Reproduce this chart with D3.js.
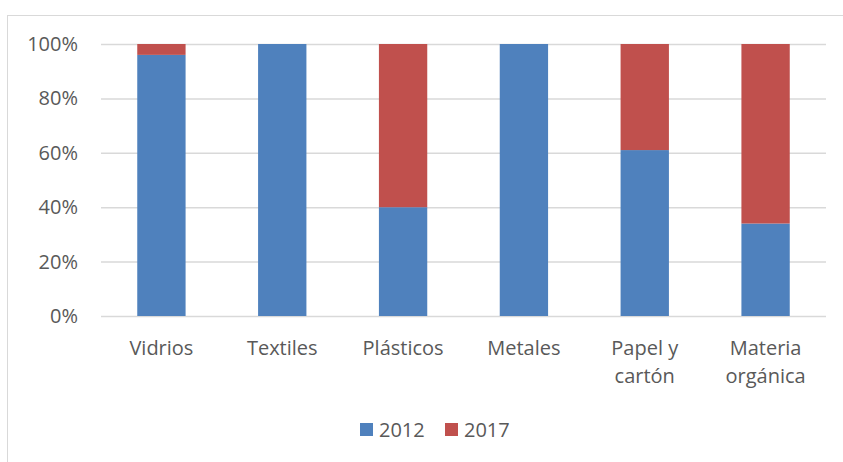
<!DOCTYPE html>
<html><head><meta charset="utf-8">
<script src="https://cdn.jsdelivr.net/npm/d3@7"></script>
<style>body{margin:0;background:#fff}svg{display:block}text{font-family:"Open Sans",sans-serif;fill:#595959}</style>
</head><body><svg id="c" width="843" height="462"></svg>
<script>
const categories = [["Vidrios"],["Textiles"],["Plásticos"],["Metales"],["Papel y","cartón"],["Materia","orgánica"]];
const series = ["2012","2017"];
const values2012 = [0.96, 1.00, 0.40, 1.00, 0.61, 0.34];
const values2017 = [0.04, 0.00, 0.60, 0.00, 0.39, 0.66];
const yTicks = [0,0.2,0.4,0.6,0.8,1.0];
const colors = ["#4F81BD","#C0504D"];
const FS = "20px";

const svg = d3.select("#c");
svg.append("rect").attr("x",7.5).attr("y",15.5).attr("width",900).attr("height",500)
  .attr("fill","none").attr("stroke","#d9d9d9");

const x = d3.scaleBand().domain(d3.range(categories.length)).range([101,826]).paddingInner(0.6).paddingOuter(0.3);
const y = d3.scaleLinear().domain([0,1]).range([316,44]);

const yAxis = d3.axisLeft(y).tickValues(yTicks).tickFormat(d3.format(".0%")).tickSize(0).tickPadding(23);
const ga = svg.append("g").attr("transform","translate(101,0)").call(yAxis);
ga.select(".domain").remove();
ga.selectAll("text").style("font-size",FS);

const grid = d3.axisLeft(y).tickValues(yTicks).tickSize(-725).tickFormat("");
const gg = svg.append("g").attr("transform","translate(101,0)").call(grid);
gg.select(".domain").remove();
gg.selectAll("line").attr("stroke","#d9d9d9").attr("stroke-width",1.5);

const data = categories.map((c,i)=>({i, "2012":values2012[i], "2017":values2017[i]}));
const stacked = d3.stack().keys(series)(data);
svg.append("g").selectAll("g").data(stacked).join("g").attr("fill",(d,k)=>colors[k])
  .selectAll("rect").data(d=>d).join("rect")
  .attr("x",d=>x(d.data.i)).attr("width",x.bandwidth())
  .attr("y",d=>y(d[1])).attr("height",d=>y(d[0])-y(d[1]));

categories.forEach((lines,i)=>{
  const cx = x(i)+x.bandwidth()/2;
  lines.forEach((l,j)=>svg.append("text").attr("x",cx).attr("y",355+j*28)
    .attr("text-anchor","middle").style("font-size",FS).text(l));
});

const legX = [360, 445];
series.forEach((s,k)=>{
  svg.append("rect").attr("x",legX[k]).attr("y",423).attr("width",13).attr("height",13).attr("fill",colors[k]);
  svg.append("text").attr("x",legX[k]+19).attr("y",437).style("font-size",FS).text(s);
});
</script></body></html>
